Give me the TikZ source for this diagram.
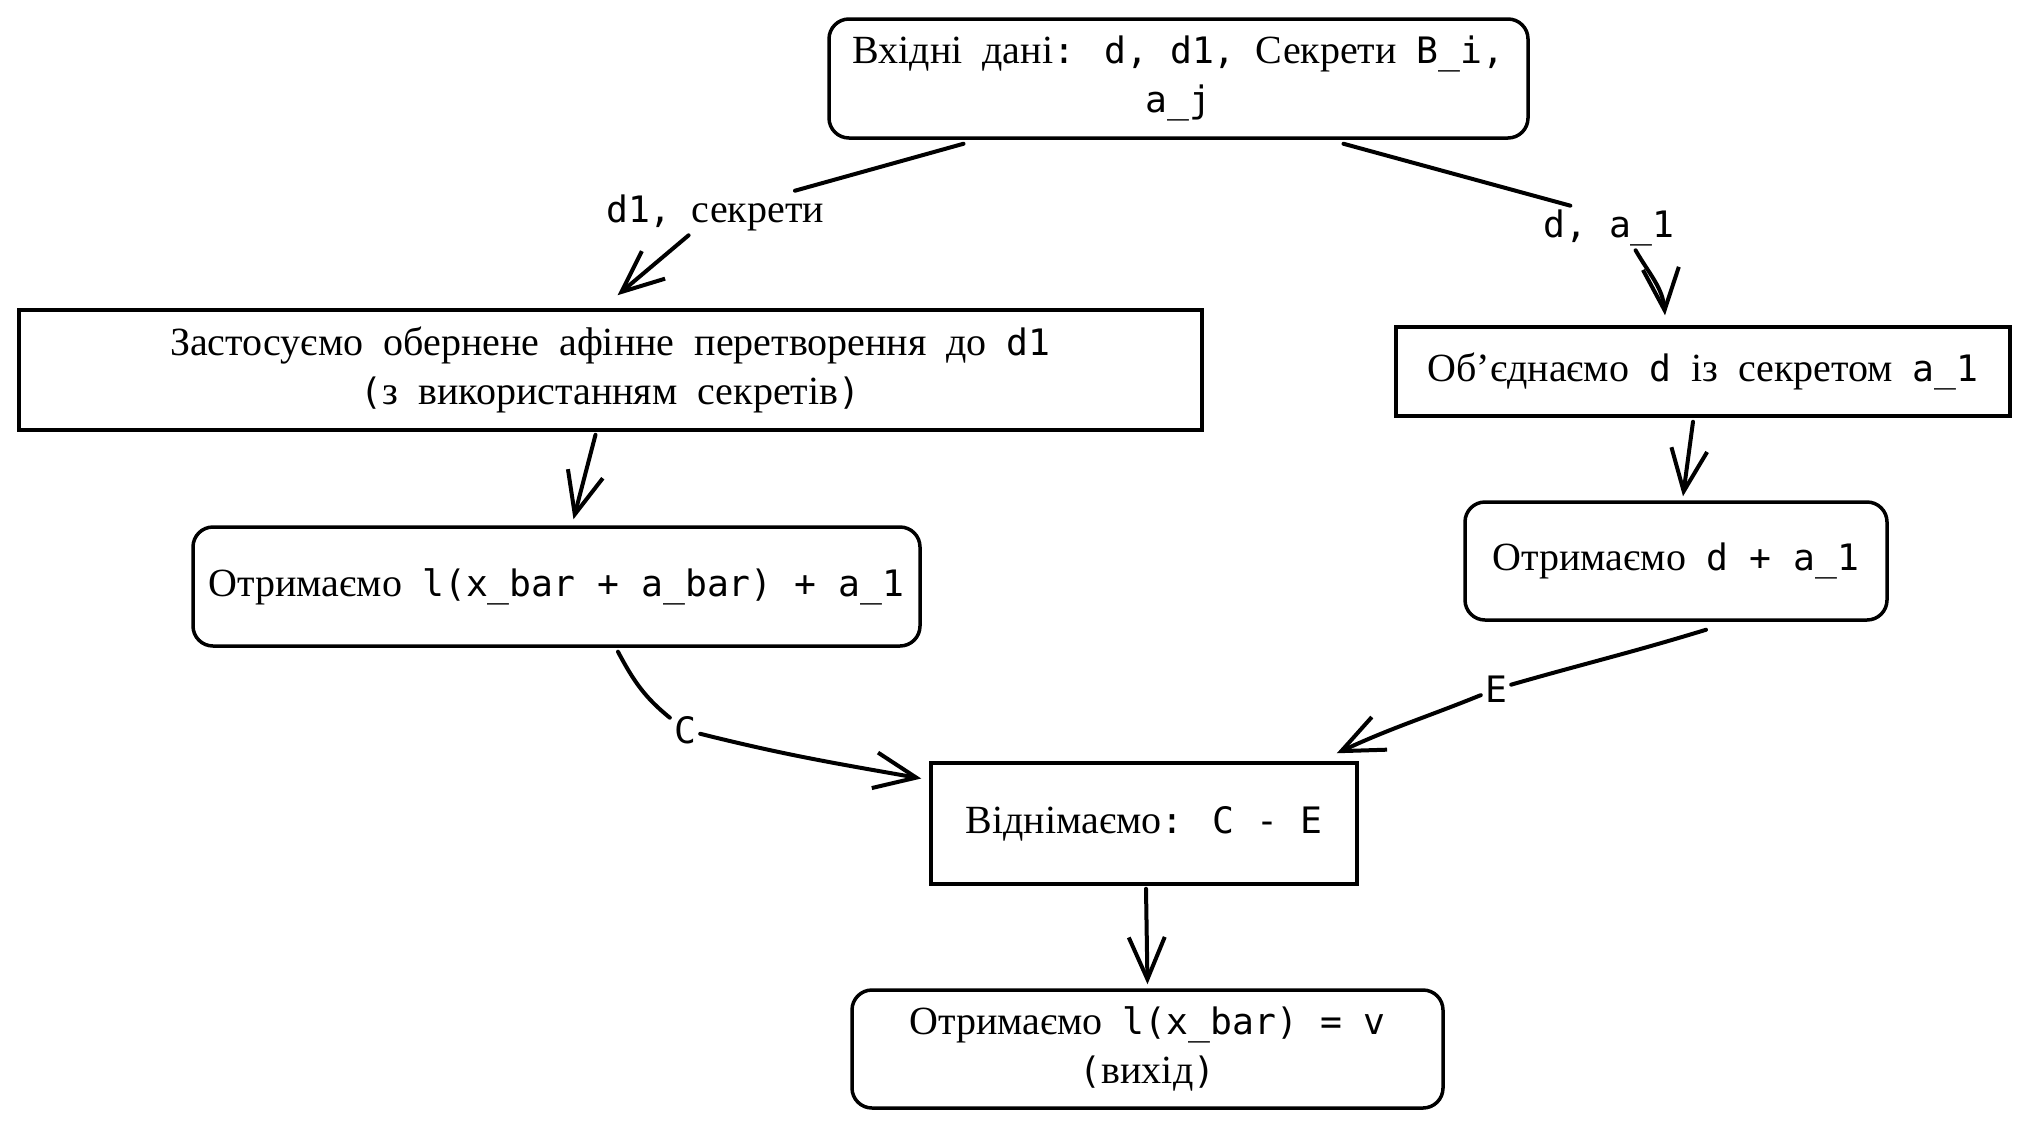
\documentclass[tikz,border=0pt]{standalone}
\usepackage{fontspec}
\setmainfont{Liberation Serif}[WordSpace=2]
\newfontfamily\monofont{DejaVu Sans Mono}[Scale=0.91]
\newcommand{\mono}[1]{{\monofont #1}}
\newcommand{\boxfont}{\fontsize{40}{49}\selectfont}
\usetikzlibrary{arrows.meta}

\begin{document}
\begin{tikzpicture}
    [
        x=1pt, y=-1pt,
        every node/.style={font=\boxfont, align=center},
        rbox/.style={draw, rounded corners=20pt, line width=3.5pt, inner sep=6pt},
        sbox/.style={draw, line width=3.5pt, inner sep=6pt},
        lbl/.style={inner sep=4pt},
        arr/.style={line width=4pt, line cap=round, line join=round,
                    -{Straight Barb[length=42pt, width=36pt]}}
    ]
    \useasboundingbox (0,0) rectangle (2027,1128);

    % boxes
    \node (inp) [rbox, minimum width=699pt, minimum height=119pt] at (1178.5,78.5)
        {Вхідні дані\mono{: d, d1,} Секрети \mono{B\_i,}\\ \mono{a\_j}};
    \node (inv) [sbox, minimum width=1183pt, minimum height=120pt] at (610.5,370)
        {Застосуємо обернене афінне перетворення до \mono{d1}\\ \mono{(}з використанням секретів\mono{)}};
    \node (comb) [sbox, minimum width=614pt, minimum height=89pt] at (1703,371.5)
        {Об’єднаємо \mono{d} із секретом \mono{a\_1}};
    \node (gotA) [rbox, minimum width=727pt, minimum height=119pt] at (556.5,586.5)
        {Отримаємо \mono{l(x\_bar + a\_bar) + a\_1}};
    \node (gotB) [rbox, minimum width=422pt, minimum height=118pt] at (1676,561)
        {Отримаємо \mono{d + a\_1}};
    \node (sub) [sbox, minimum width=426pt, minimum height=121pt] at (1144,823.5)
        {Віднімаємо\mono{: C - E}};
    \node (out) [rbox, minimum width=591pt, minimum height=118pt] at (1147.5,1049)
        {Отримаємо \mono{l(x\_bar) = v}\\ \mono{(}вихід\mono{)}};

    % edge labels
    \node (l1) [lbl] at (715,213) {\mono{d1,} секрети};
    \node (l2) [lbl] at (1609,228) {\mono{d, a\_1}};
    \node (lC) [lbl] at (685,730) {\mono{C}};
    \node (lE) [lbl] at (1496,689) {\mono{E}};

    % edges
    \draw [arr] ([xshift=-215pt,yshift=-4pt]inp.south) -- (l1)
        -- ([xshift=7pt,yshift=13pt]inv.north);
    \draw [arr] ([xshift=165pt,yshift=-4pt]inp.south) -- (l2.150)
        (l2.-40) to[out=-60, in=95] ([xshift=-38pt,yshift=10pt]comb.north);
    \draw [arr] ([xshift=-15pt,yshift=-3pt]inv.south) -- ([xshift=17pt,yshift=6pt]gotA.north);
    \draw [arr] ([xshift=-10pt,yshift=-4pt]comb.south) -- ([xshift=7pt,yshift=4pt]gotB.north);
    \draw [arr] ([xshift=61.5pt,yshift=-4pt]gotA.south) to[out=-62, in=141] (lC)
        to[out=-14, in=170] ([xshift=-8pt,yshift=45pt]sub.west);
    \draw [arr] ([xshift=30pt,yshift=-8pt]gotB.south) to[out=197, in=16] (lE)
        to[out=202, in=25] ([xshift=-22pt,yshift=8pt]sub.north east);
    \draw [arr] ([xshift=2pt,yshift=-3pt]sub.south) -- ([yshift=4pt]out.north);
\end{tikzpicture}
\end{document}
